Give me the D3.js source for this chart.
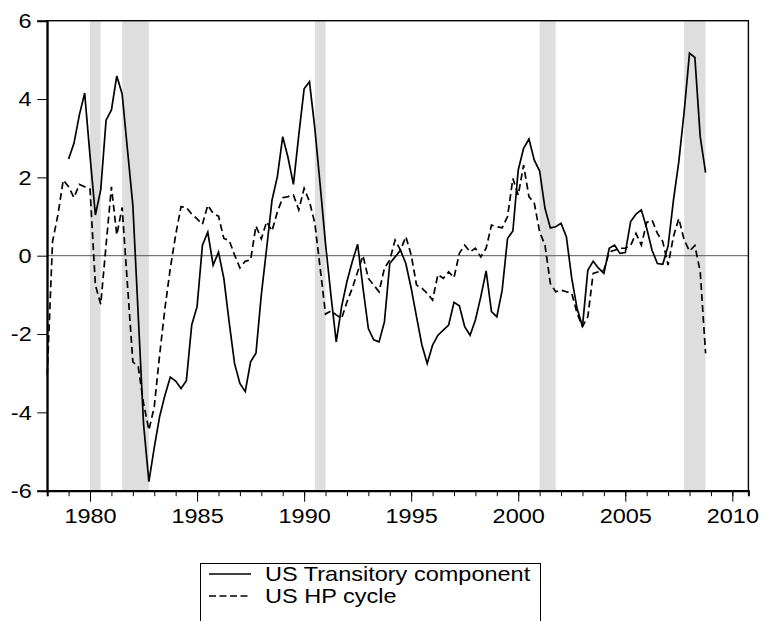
<!DOCTYPE html>
<html>
<head>
<meta charset="utf-8">
<script src="https://cdn.jsdelivr.net/npm/d3@7"></script>
<style>
body { margin: 0; background: #fff; }
text { font-family: "Liberation Sans", Arial, sans-serif; fill: #000; }
</style>
</head>
<body>
<script>
// Quarterly series
var transitoryStart = 1979;
var transitory = [
    2.47, 2.87, 3.59, 4.15,     // 1979
    2.55, 1.04, 1.68, 3.46,     // 1980
    3.72, 4.59, 4.13, 2.70,     // 1981
    1.29, -1.50, -4.30, -5.77,  // 1982
    -4.90, -4.11, -3.56, -3.10, // 1983
    -3.20, -3.39, -3.19, -1.77, // 1984
    -1.30, 0.27, 0.60, -0.24,   // 1985
    0.09, -0.58, -1.70, -2.75,  // 1986
    -3.26, -3.47, -2.71, -2.49, // 1987
    -1.00, 0.19, 1.42, 2.02,    // 1988
    3.04, 2.50, 1.82, 3.08,     // 1989
    4.26, 4.44, 3.25, 1.80,     // 1990
    0.30, -1.00, -2.20, -1.30,  // 1991
    -0.66, -0.15, 0.29, -0.83,  // 1992
    -1.86, -2.15, -2.20, -1.69, // 1993
    -0.20, -0.03, 0.14, -0.20,  // 1994
    -0.83, -1.56, -2.28, -2.75, // 1995
    -2.28, -2.03, -1.90, -1.77, // 1996
    -1.19, -1.28, -1.81, -2.03, // 1997
    -1.64, -1.05, -0.39, -1.43, // 1998
    -1.56, -0.88, 0.44, 0.63,   // 1999
    2.19, 2.74, 2.98, 2.44,     // 2000
    2.16, 1.21, 0.71, 0.74,     // 2001
    0.83, 0.48, -0.58, -1.35,   // 2002
    -1.81, -0.37, -0.14, -0.32, // 2003
    -0.45, 0.19, 0.27, 0.06,    // 2004
    0.08, 0.87, 1.06, 1.17,     // 2005
    0.70, 0.14, -0.20, -0.22,   // 2006
    0.25, 1.42, 2.40, 3.68,     // 2007
    5.17, 5.06, 3.04, 2.12      // 2008
];

var hpStart = 1978;
var hpCycle = [
    -3.05, 0.36, 1.04, 1.93,    // 1978
    1.76, 1.48, 1.82, 1.76,     // 1979
    1.70, -0.75, -1.24, 0.27,   // 1980
    1.76, 0.53, 1.23, -0.75,    // 1981
    -2.71, -2.83, -3.77, -4.45, // 1982
    -3.86, -2.54, -1.34, -0.32, // 1983
    0.53, 1.25, 1.23, 1.06,     // 1984
    0.94, 0.80, 1.29, 1.08,     // 1985
    1.01, 0.44, 0.39, 0.02,     // 1986
    -0.31, -0.14, -0.11, 0.76,  // 1987
    0.43, 0.87, 0.63, 1.12,     // 1988
    1.48, 1.51, 1.55, 1.17,     // 1989
    1.72, 1.38, 0.83, -0.32,    // 1990
    -1.49, -1.41, -1.51, -1.60, // 1991
    -1.18, -0.83, -0.41, 0.00,  // 1992
    -0.58, -0.75, -0.92, -0.32, // 1993
    -0.11, 0.40, 0.14, 0.49,    // 1994
    0.02, -0.75, -0.83, -0.96,  // 1995
    -1.13, -0.48, -0.58, -0.41, // 1996
    -0.56, 0.06, 0.27, 0.10,    // 1997
    0.19, -0.03, 0.19, 0.78,    // 1998
    0.74, 0.71, 1.00, 1.97,     // 1999
    1.55, 2.31, 1.51, 1.34,     // 2000
    0.61, 0.27, -0.71, -0.92,   // 2001
    -0.88, -0.92, -0.96, -1.47, // 2002
    -1.81, -1.56, -0.45, -0.41, // 2003
    -0.37, 0.10, 0.14, 0.19,    // 2004
    0.19, 0.26, 0.57, 0.27,     // 2005
    0.85, 0.91, 0.57, 0.36,     // 2006
    -0.24, 0.49, 0.95, 0.40,    // 2007
    0.12, 0.26, -0.41, -2.49    // 2008
];

// recession bands
var recessionStart = [1980.0, 1981.5, 1990.5, 2001.0, 2007.75];
var recessionEnd = [1980.5, 1982.75, 1991.0, 2001.75, 2008.75];

// ticks
var yTicks = [-6, -4, -2, 0, 2, 4, 6];
var xMajorTicks = [1980, 1985, 1990, 1995, 2000, 2005, 2010];
var xMinorTicks = d3.range(1978, 2011);

var legendLabels = ["US Transitory component", "US HP cycle"];

// SVG
var WIDTH = 761;
var HEIGHT = 621;
var STRETCH = 1.12; // text in the picture is a bit wide
var FONT = "21px";

var svg = d3.select("body").append("svg")
    .attr("width", WIDTH)
    .attr("height", HEIGHT);

var x = d3.scaleLinear().domain([1978, 2010.75]).range([47.2, 748.4]);
var y = d3.scaleLinear().domain([-6, 6]).range([490.7, 20.7]);

// recession shading
svg.append("g").selectAll("rect")
    .data(recessionStart)
    .enter().append("rect")
    .attr("x", function(d) { return x(d); })
    .attr("y", y(6))
    .attr("width", function(d, i) { return x(recessionEnd[i]) - x(d); })
    .attr("height", y(-6) - y(6))
    .attr("fill", "#dedede");

// zero line
svg.append("line")
    .attr("x1", x.range()[0]).attr("x2", x.range()[1])
    .attr("y1", y(0)).attr("y2", y(0))
    .attr("stroke", "#555")
    .attr("stroke-width", 1);

// series
var transLine = d3.line()
    .x(function(d, i) { return x(transitoryStart + i / 4); })
    .y(function(d) { return y(d); });

var hpLine = d3.line()
    .x(function(d, i) { return x(hpStart + i / 4); })
    .y(function(d) { return y(d); });

svg.append("path")
    .datum(hpCycle)
    .attr("d", hpLine)
    .attr("fill", "none")
    .attr("stroke", "#000")
    .attr("stroke-width", 1.7)
    .attr("stroke-dasharray", "7,4");

svg.append("path")
    .datum(transitory)
    .attr("d", transLine)
    .attr("fill", "none")
    .attr("stroke", "#000")
    .attr("stroke-width", 1.7);

// frame
svg.append("rect")
    .attr("x", x.range()[0]).attr("y", y(6))
    .attr("width", x.range()[1] - x.range()[0])
    .attr("height", y(-6) - y(6))
    .attr("fill", "none")
    .attr("stroke", "#000")
    .attr("stroke-width", 1.4);

// Y axis
var yAxis = svg.append("g")
    .attr("transform", "translate(" + x.range()[0] + ",0)")
    .call(d3.axisLeft(y).tickValues(yTicks).tickSize(10)
        .tickFormat(function(d) { return String(d); }));
yAxis.select(".domain").attr("stroke-width", 2);
yAxis.selectAll("text")
    .attr("x", -15.5 / STRETCH)
    .attr("transform", "scale(" + STRETCH + ",1)")
    .style("font-size", FONT);
yAxis.attr("font-family", null);

// X axis: minor ticks every year, long ticks every 5 years
var xMinor = svg.append("g")
    .attr("transform", "translate(0," + y(-6) + ")")
    .call(d3.axisBottom(x).tickValues(xMinorTicks).tickSize(5.5).tickFormat(""));
xMinor.select(".domain").attr("stroke-width", 2);

var xAxis = svg.append("g")
    .attr("transform", "translate(0," + y(-6) + ")")
    .call(d3.axisBottom(x).tickValues(xMajorTicks).tickSize(11).tickPadding(6)
        .tickFormat(function(d) { return String(d); }));
xAxis.select(".domain").remove();
xAxis.selectAll("text")
    .attr("transform", "scale(" + STRETCH + ",1)")
    .style("font-size", FONT);
xAxis.attr("font-family", null);

// legend
var legend = svg.append("g");
legend.append("rect")
    .attr("x", 200.5).attr("y", 563.5)
    .attr("width", 340).attr("height", 80)
    .attr("fill", "#fff")
    .attr("stroke", "#000")
    .attr("stroke-width", 1);

var legendY = [574, 596];
legendLabels.forEach(function(label, i) {
    legend.append("line")
        .attr("x1", 209).attr("x2", 251)
        .attr("y1", legendY[i]).attr("y2", legendY[i])
        .attr("stroke", "#000")
        .attr("stroke-width", 1.5)
        .attr("stroke-dasharray", i == 1 ? "7,3.5" : null);
    legend.append("text")
        .attr("x", 265 / STRETCH)
        .attr("y", legendY[i] + 7)
        .attr("transform", "scale(" + STRETCH + ",1)")
        .style("font-size", FONT)
        .text(label);
});
</script>
</body>
</html>
